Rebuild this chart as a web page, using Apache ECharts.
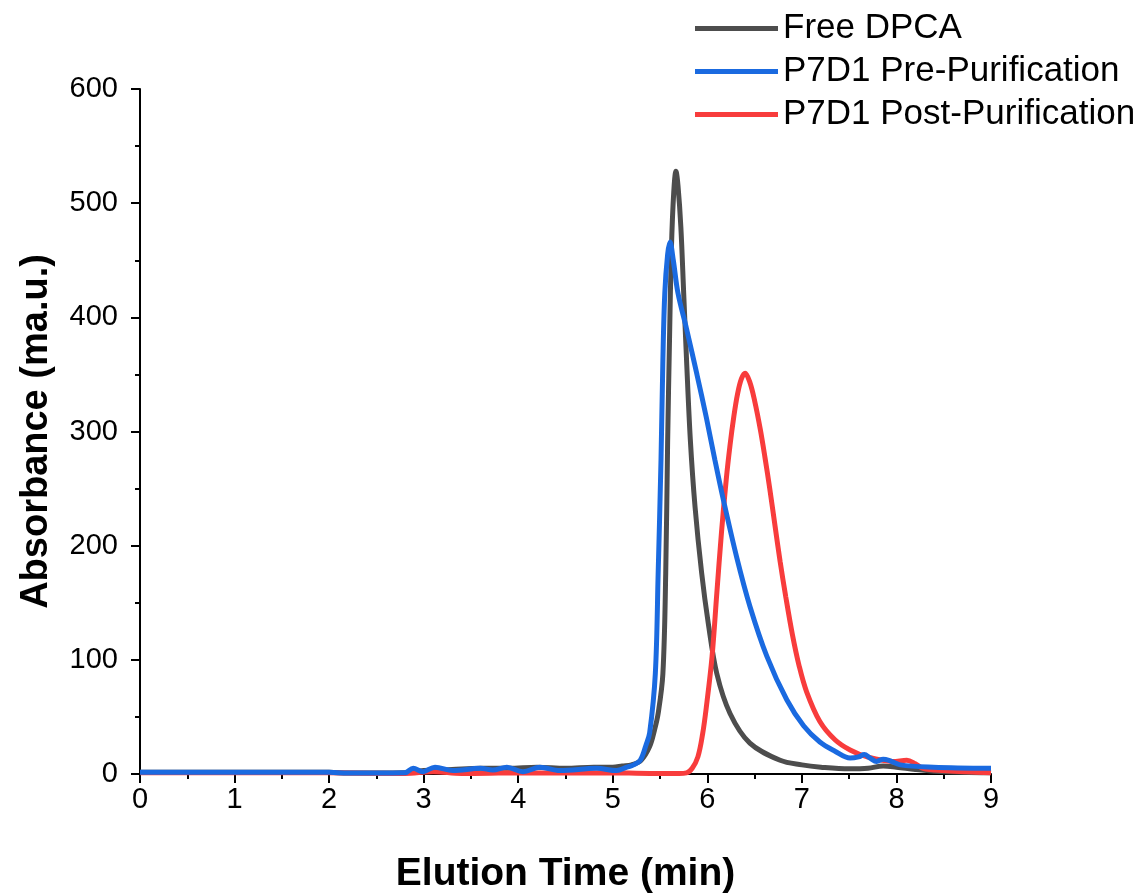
<!DOCTYPE html>
<html>
<head>
<meta charset="utf-8">
<script src="https://cdn.jsdelivr.net/npm/echarts@6/dist/echarts.min.js"></script>
<style>html,body{margin:0;padding:0;background:#fff}#c{width:1146px;height:896px}</style>
</head>
<body>
<div id="c"></div>
<script>
const seriesNames = ['Free DPCA', 'P7D1 Pre-Purification', 'P7D1 Post-Purification'];
const xTicks = [0,1,2,3,4,5,6,7,8,9];
const yTicks = [0,100,200,300,400,500,600];

const freeT = [0,0.5,1,1.5,2,2.2,2.5,2.8,3.0,3.3,3.6,3.9,4.2,4.5,4.8,5.0,5.1,5.2,5.3,5.39,5.44,5.48,5.53,5.56,5.58,5.6,5.62,5.645,5.668,5.69,5.72,5.75,5.78,5.82,5.87,5.94,6.01,6.1,6.24,6.45,6.77,7.0,7.2,7.5,7.7,7.86,8.0,8.2,8.4,8.7,9.0];
const freeY = [1.5,1.5,1.5,1.5,1.5,0.8,0.8,1,3,4,5,5,6,5,6,6,7,8,12,24,38,53,88,176,290,380,460,510,528,515,479,421,363,293,234,176,132,88,53,27,12,8,6,4.5,5,7,6,4,2.5,1.5,1];

const preT = [0,0.5,1,1.5,2,2.2,2.5,2.8,2.89,2.99,3.12,3.31,3.6,3.73,3.88,4.05,4.23,4.44,4.83,5.04,5.15,5.22,5.29,5.35,5.39,5.45,5.48,5.51,5.53,5.55,5.58,5.605,5.64,5.69,5.78,5.89,5.99,6.08,6.17,6.31,6.45,6.63,6.84,7.02,7.19,7.35,7.51,7.6,7.66,7.72,7.79,7.86,7.92,8.04,8.39,9.0];
const preY = [1.5,1.5,1.5,1.5,1.5,0.8,0.8,1,5,2,6,3,5,3.5,6,2,6,3,5,3,6,8,12,25,36,88,176,275,363,421,455,466,450,421,390,350,312,275,240,190,147,103,65,42,28,20,14,15,17,14,11,13,12,8,6,5];

const postT = [0,1,2,2.8,3.1,3.4,4.0,4.5,5.0,5.5,5.7,5.78,5.84,5.9,5.95,5.99,6.05,6.1,6.15,6.2,6.24,6.28,6.32,6.36,6.4,6.45,6.5,6.56,6.61,6.66,6.72,6.77,6.83,6.9,6.97,7.05,7.19,7.35,7.51,7.69,7.96,8.11,8.2,8.28,8.5,8.75,9.0];
const postY = [1,1,1,0.5,2,0.5,1,0.8,1,0.5,0.5,1,5,15,35,59,103,158,212,258,288,313,333,346,351,343,327,302,277,250,215,186,155,122,95,72,46,30,21,15,11,12,9,5,3,2,1];

const colors = ['#4d4d4d', '#1a6ae0', '#f83c3c'];
const toPairs = (t, y) => t.map((v, i) => [v, y[i]]);
const dataSets = [toPairs(freeT, freeY), toPairs(preT, preY), toPairs(postT, postY)];

const chart = echarts.init(document.getElementById('c'), null, {renderer: 'canvas'});
const font = 'Liberation Sans, Arial, sans-serif';
chart.setOption({
  animation: false,
  backgroundColor: '#fff',
  grid: {left: 140, right: 155, top: 89, bottom: 122, containLabel: false, outerBoundsMode: 'none'},
  legend: {
    orient: 'vertical', left: 690, top: 6,
    icon: 'rect', itemWidth: 83, itemHeight: 5, itemGap: 8,
    textStyle: {fontFamily: font, fontSize: 35, color: '#000'},
    data: seriesNames
  },
  xAxis: {
    type: 'value', min: xTicks[0], max: xTicks[xTicks.length-1], interval: 1,
    name: 'Elution Time (min)', nameLocation: 'middle', nameGap: 81,
    nameTextStyle: {fontFamily: font, fontSize: 39, fontWeight: 'bold', color: '#000'},
    axisLine: {show: true, lineStyle: {color: '#000', width: 2}},
    axisTick: {show: true, inside: false, length: 9, lineStyle: {color: '#000', width: 2}},
    minorTick: {show: true, splitNumber: 2, length: 5, lineStyle: {color: '#000', width: 2}},
    axisLabel: {fontFamily: font, fontSize: 29, color: '#000', margin: 11},
    splitLine: {show: false}
  },
  yAxis: {
    type: 'value', min: yTicks[0], max: yTicks[yTicks.length-1], interval: 100,
    name: 'Absorbance (ma.u.)', nameLocation: 'middle', nameGap: 84,
    nameTextStyle: {fontFamily: font, fontSize: 38, fontWeight: 'bold', color: '#000'},
    axisLine: {show: true, lineStyle: {color: '#000', width: 2}},
    axisTick: {show: true, inside: false, length: 9, lineStyle: {color: '#000', width: 2}},
    minorTick: {show: true, splitNumber: 2, length: 5, lineStyle: {color: '#000', width: 2}},
    axisLabel: {fontFamily: font, fontSize: 29, color: '#000', margin: 22},
    splitLine: {show: false}
  },
  series: seriesNames.map((n, i) => ({
    name: n, type: 'line', data: dataSets[i], showSymbol: false, symbol: 'none',
    smooth: 0.35, clip: true,
    lineStyle: {color: colors[i], width: 5},
    itemStyle: {color: colors[i]},
    z: i === 1 ? 4 : (i === 0 ? 2 : 3)
  }))
});
</script>
</body>
</html>
